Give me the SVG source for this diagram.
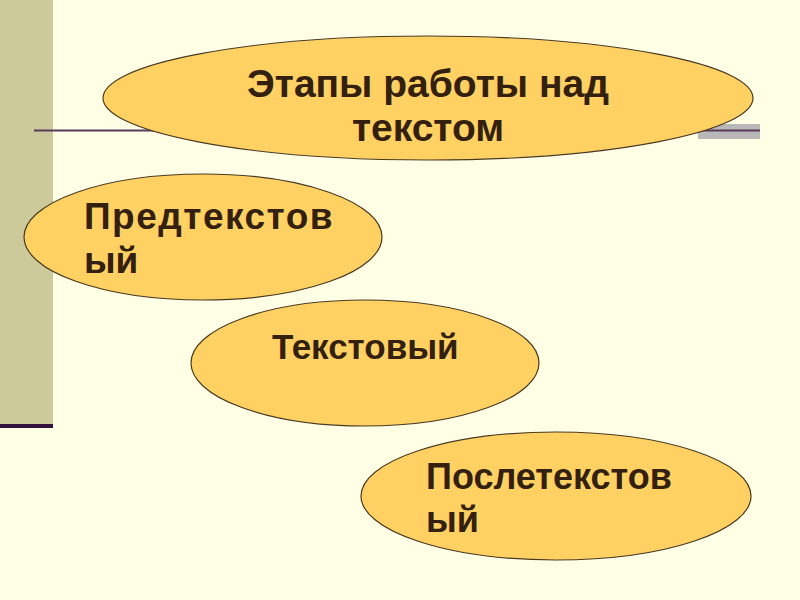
<svg xmlns="http://www.w3.org/2000/svg" width="800" height="600" viewBox="0 0 800 600">
<style>
.node ellipse{fill:#FFD163;stroke:#4a3a20;stroke-width:1.2}
.node text{font-family:"Liberation Sans",Arial,sans-serif;font-weight:bold;font-size:36px;fill:#33200f}
</style>
<rect x="0" y="0" width="800" height="600" fill="#FFFFE6"/>
<rect x="0" y="0" width="53" height="425" fill="#CCCA9A"/>
<rect x="0" y="424" width="53" height="4" fill="#33113A"/>
<g id="connectors">
<rect x="698" y="124" width="62" height="15" fill="#B8B8B8"/>
<line x1="34" y1="130.5" x2="760" y2="130.5" stroke="#5A3A5A" stroke-width="2"/>
</g>
<g id="n-main" class="node">
<ellipse cx="428" cy="98" rx="325" ry="62"/>
<text x="428" y="97" text-anchor="middle" style="font-size:39px">Этапы работы над</text>
<text x="428" y="141" text-anchor="middle" style="font-size:39px">текстом</text>
</g>
<g id="n-pre" class="node">
<ellipse cx="203" cy="237" rx="179" ry="63"/>
<text x="84" y="229" style="font-size:37px;letter-spacing:1.5px">Предтекстов</text>
<text x="84" y="273" style="font-size:37px">ый</text>
</g>
<g id="n-text" class="node">
<ellipse cx="365" cy="363" rx="174" ry="63"/>
<text x="272" y="359" style="font-size:35px">Текстовый</text>
</g>
<g id="n-post" class="node">
<ellipse cx="556" cy="496" rx="195" ry="64"/>
<text x="426" y="489">Послетекстов</text>
<text x="426" y="532">ый</text>
</g>
</svg>
